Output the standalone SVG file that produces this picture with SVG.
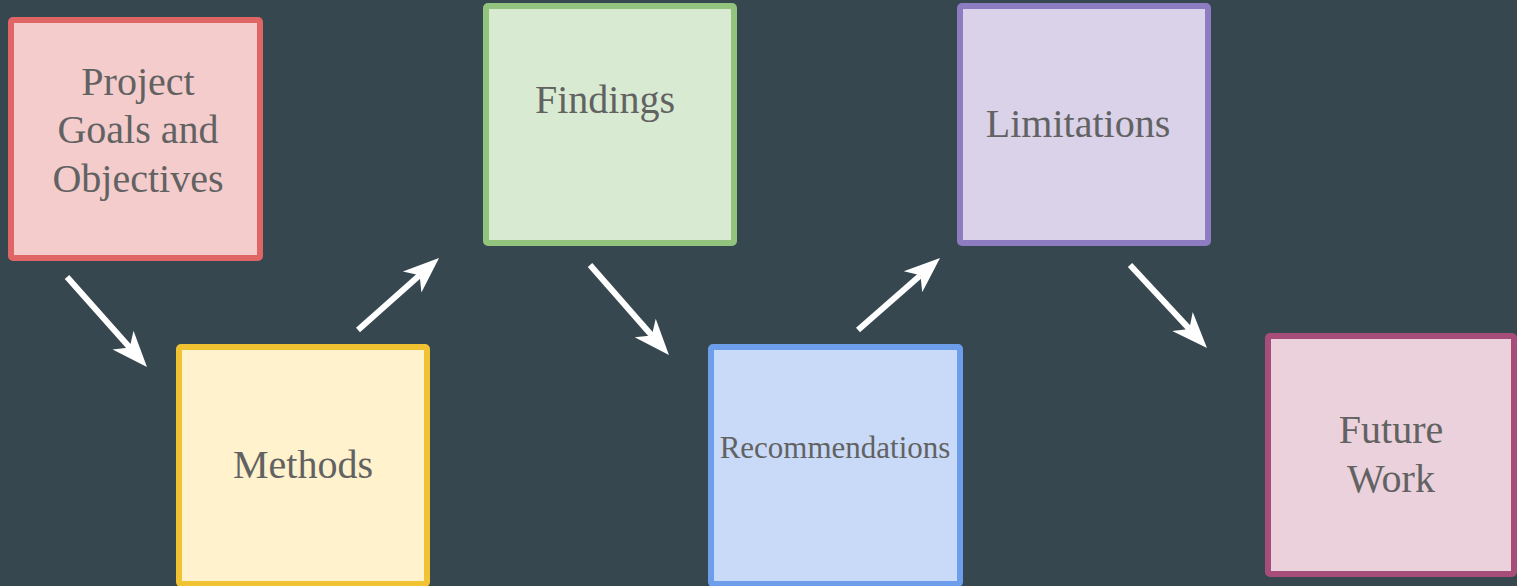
<svg xmlns="http://www.w3.org/2000/svg" width="1517" height="586" viewBox="0 0 1517 586">
  <style>
    .box { stroke-width: 6; stroke-linejoin: round; }
    .label { font-family: "Liberation Serif", "DejaVu Serif", serif; font-size: 40px; fill: #626262; text-anchor: middle; }
    .small { font-size: 31px; }
    .conn { stroke: #ffffff; stroke-width: 6; fill: none; marker-end: url(#head); }
  </style>
  <defs>
    <marker id="head" markerUnits="userSpaceOnUse" markerWidth="40" markerHeight="32" viewBox="0 -16 40 32" refX="10" refY="0" orient="auto">
      <path d="M0,-14 L36,0 L0,14 L10,0 Z" fill="#ffffff"/>
    </marker>
  </defs>
  <rect width="1517" height="586" fill="#37474f"/>

  <g id="node-goals">
    <rect class="box" x="11" y="20" width="249" height="238" rx="2" fill="#f4cccc" stroke="#e06666"/>
    <text class="label" x="138" y="95">Project</text>
    <text class="label" x="138" y="143">Goals and</text>
    <text class="label" x="138" y="192">Objectives</text>
  </g>
  <g id="node-methods">
    <rect class="box" x="179" y="347" width="248" height="237" rx="2" fill="#fff2cc" stroke="#f1c232"/>
    <text class="label" x="303" y="478">Methods</text>
  </g>
  <g id="node-findings">
    <rect class="box" x="486" y="6" width="248" height="237" rx="2" fill="#d9ead3" stroke="#93c47d"/>
    <text class="label" x="605" y="113">Findings</text>
  </g>
  <g id="node-recommendations">
    <rect class="box" x="711" y="347" width="249" height="237" rx="2" fill="#c9daf8" stroke="#6d9eeb"/>
    <text class="label small" x="835" y="458">Recommendations</text>
  </g>
  <g id="node-limitations">
    <rect class="box" x="960" y="6" width="248" height="237" rx="2" fill="#d9d2e9" stroke="#8e7cc3"/>
    <text class="label" x="1078" y="137">Limitations</text>
  </g>
  <g id="node-future">
    <rect class="box" x="1268" y="336" width="246" height="238" rx="2" fill="#ead1dc" stroke="#a64d79"/>
    <text class="label" x="1391" y="443">Future</text>
    <text class="label" x="1391" y="492">Work</text>
  </g>

  <g id="connectors">
    <path class="conn" d="M67,277 L129.7,347.6"/>
    <path class="conn" d="M358,330 L419.6,275.3"/>
    <path class="conn" d="M590,265 L651.8,335.5"/>
    <path class="conn" d="M858,330 L920.5,275.2"/>
    <path class="conn" d="M1130,265 L1189.3,328.9"/>
  </g>
</svg>
